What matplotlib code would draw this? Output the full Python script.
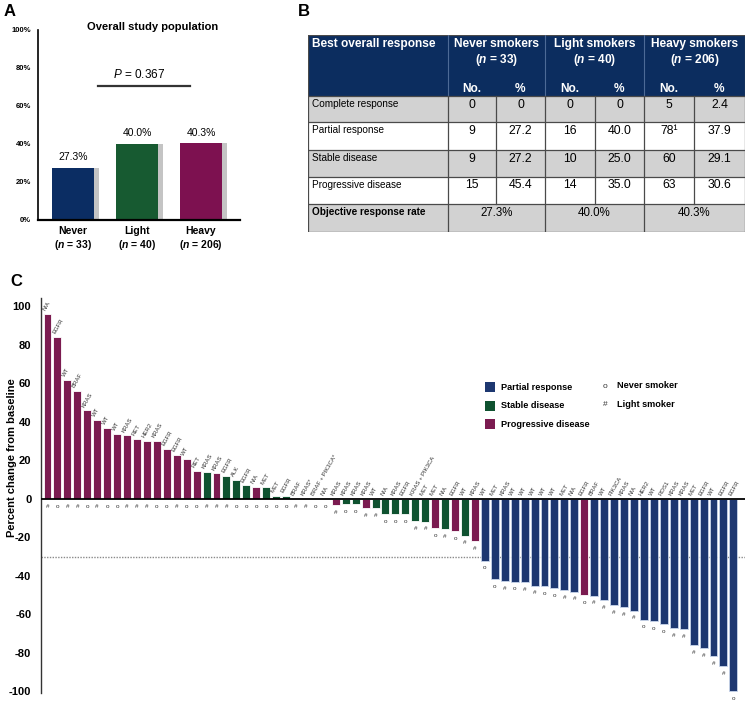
import numpy as np
import matplotlib
matplotlib.use('Agg')
import matplotlib.pyplot as plt
from matplotlib.patches import Rectangle

plt.rcParams['font.family'] = ['Liberation Sans', 'DejaVu Sans']
plt.rcParams['mathtext.fontset'] = 'custom'
plt.rcParams['mathtext.it'] = 'Liberation Sans:italic'
plt.rcParams['mathtext.bfit'] = 'Liberation Sans:italic:bold'
plt.rcParams['mathtext.rm'] = 'Liberation Sans'

W, H = 750, 701

# --- Panel A data ---
groups_a = ['Never', 'Light', 'Heavy']
n_a = [33, 40, 206]
orr_a = [27.3, 40.0, 40.3]
colors_a = ['#0b2d63', '#175a31', '#7d1150']
p_value = 0.367

# --- Panel B data ---
smoker_groups = ['Never smokers', 'Light smokers', 'Heavy smokers']
resp_rows = ['Complete response', 'Partial response', 'Stable disease', 'Progressive disease']
never_no = ['0', '9', '9', '15']
never_pct = ['0', '27.2', '27.2', '45.4']
light_no = ['0', '16', '10', '14']
light_pct = ['0', '40.0', '25.0', '35.0']
heavy_no = ['5', '78\u00b9', '60', '63']
heavy_pct = ['2.4', '37.9', '29.1', '30.6']
orr_row = ['27.3%', '40.0%', '40.3%']

# --- Panel C data ---
genes = ['N/A', 'EGFR', 'WT', 'BRAF', 'KRAS', 'WT', 'WT', 'WT', 'KRAS', 'RET',
         'HER2', 'KRAS', 'EGFR', 'EGFR', 'WT', 'RET', 'KRAS', 'KRAS', 'EGFR', 'ALK',
         'EGFR', 'N/A', 'MET', 'MET', 'EGFR', 'BRAF', 'KRAS*', 'BRAF + PIK3CA*', 'N/A',
         'KRAS', 'KRAS', 'KRAS', 'KRAS', 'WT', 'N/A', 'KRAS', 'EGFR', 'KRAS + PIK3CA',
         'MET', 'MET', 'N/A', 'EGFR', 'WT', 'KRAS',
         'WT', 'MET', 'KRAS', 'WT', 'WT', 'WT', 'WT', 'WT', 'MET', 'N/A', 'EGFR',
         'BRAF', 'WT', 'PIK3CA', 'KRAS', 'N/A', 'HER2', 'WT', 'ROS1', 'KRAS', 'KRAS',
         'MET', 'EGFR', 'WT', 'EGFR', 'EGFR']
pct_change = [96, 84, 62, 56, 46, 41, 37, 34, 33, 31, 30, 30, 26, 23, 21,
              14.7, 13.9, 13.3, 12, 9.9, 7, 6.4, 6, 1.7, 1.5, 0, 0, 0, 0,
              -3, -2.8, -2.8, -4.9, -4.9, -7.8, -7.8, -7.8, -11.3, -11.8,
              -15.3, -15.5, -16.7, -19, -22,
              -32, -41.7, -42.7, -42.9, -43.1, -45, -45.3, -46.2, -47.2, -48.1,
              -49.8, -50.2, -52.6, -55, -56, -58, -62.7, -63.5, -64.8, -67.2,
              -67.5, -75.9, -77.4, -81.6, -87, -100]
response = (['PD'] * 16 + ['SD', 'PD', 'SD', 'SD', 'SD', 'PD', 'SD', 'SD', 'SD',
             'SD', 'SD', 'SD', 'SD']
            + ['PD', 'SD', 'SD', 'PD', 'SD', 'SD', 'SD', 'SD', 'SD', 'SD', 'PD',
               'SD', 'PD', 'SD', 'PD']
            + ['PR'] * 10 + ['PD'] + ['PR'] * 15)
smoker = ['#', 'o', '#', '#', 'o', '#', 'o', 'o', '#', '#', '#', 'o', 'o', '#', 'o',
          'o', '#', '#', '#', 'o', 'o', 'o', 'o', 'o', 'o', '#', '#', 'o', 'o',
          '#', 'o', 'o', '#', '#', 'o', 'o', 'o', '#', '#', 'o', '#', 'o', '#', '#',
          'o', 'o', '#', 'o', '#', '#', 'o', 'o', '#', '#', 'o', '#', '#', '#', '#',
          '#', 'o', 'o', 'o', '#', '#', '#', '#', '#', '#', 'o']
resp_colors = {'PR': '#1d3770', 'SD': '#0f5230', 'PD': '#7b1b50'}
resp_names = {'PR': 'Partial response', 'SD': 'Stable disease', 'PD': 'Progressive disease'}
smoker_names = {'o': 'Never smoker', '#': 'Light smoker'}

fig = plt.figure(figsize=(W / 100, H / 100), dpi=100)


def px_axes(l, t, r, b):
    return fig.add_axes([l / W, 1 - b / H, (r - l) / W, (b - t) / H])


# letters
fig.text(4 / W, 1 - 11 / H, 'A', fontsize=12, fontweight='bold', va='center')
fig.text(298 / W, 1 - 11 / H, 'B', fontsize=12, fontweight='bold', va='center')
fig.text(10 / W, 1 - 282 / H, 'C', fontsize=12, fontweight='bold', va='center')

# ---------------- Panel A ----------------
axA = px_axes(38, 30, 240, 220)
xa = np.arange(len(groups_a))
axA.bar(xa + 0.07, orr_a, width=0.67, color='#c4c4c4', zorder=1)
axA.bar(xa, orr_a, width=0.67, color=colors_a, zorder=2)
axA.set_xlim(-0.547, 2.61)
axA.set_ylim(0, 100)
axA.set_yticks(range(0, 101, 20))
axA.set_yticklabels([f'{v}%' for v in range(0, 101, 20)], fontsize=5.5, fontweight='bold')
axA.tick_params(axis='y', length=0, pad=5)
axA.set_xticks([])
for s in ['top', 'right']:
    axA.spines[s].set_visible(False)
axA.spines['left'].set_linewidth(1.2)
axA.spines['bottom'].set_linewidth(1.6)
for i, v in enumerate(orr_a):
    axA.text(i, v + 3, f'{v:.1f}%', ha='center', va='bottom', fontsize=7.5)
    axA.text(i, -5.8, groups_a[i], ha='center', va='center', fontsize=7.5,
             fontweight='bold', clip_on=False)
    axA.text(i, -13.2, r'($\mathbfit{n}$ = ' + f'{n_a[i]})', ha='center', va='center',
             fontsize=7.5, fontweight='bold', clip_on=False)
axA.plot([0.39, 1.83], [70.5, 70.5], color='#333333', lw=1.6)
axA.text(1.03, 76.5, r'$P$ = ' + f'{p_value}', ha='center', va='center', fontsize=8.5)
axA.text(1.25, 101.6, 'Overall study population', ha='center', va='center',
         fontsize=8, fontweight='bold', clip_on=False)

# ---------------- Panel B ----------------
axB = px_axes(308, 35, 745, 232)
axB.set_xlim(308, 745)
axB.set_ylim(232, 35)
axB.axis('off')
cols = [308, 448, 496, 545, 595, 644, 694, 745]
rows_y = [35, 96, 122, 150, 177, 204, 232]
navy = '#0c2d5f'
axB.add_patch(Rectangle((cols[0], rows_y[0]), cols[-1] - cols[0], rows_y[1] - rows_y[0],
                        facecolor=navy, edgecolor='none'))
fills = ['#d2d2d2', 'white', '#d2d2d2', 'white', '#d2d2d2']
for r in range(5):
    axB.add_patch(Rectangle((cols[0], rows_y[r + 1]), cols[-1] - cols[0],
                            rows_y[r + 2] - rows_y[r + 1], facecolor=fills[r],
                            edgecolor='none'))
grid_c = '#4a4a4a'
for y in rows_y[1:]:
    axB.plot([cols[0], cols[-1]], [y, y], color=grid_c, lw=0.9)
axB.plot([cols[0], cols[-1]], [rows_y[0], rows_y[0]], color=grid_c, lw=0.9)
for x in [cols[0], cols[-1]]:
    axB.plot([x, x], [rows_y[0], rows_y[-1]], color=grid_c, lw=0.9)
for x in [cols[1], cols[3], cols[5]]:
    axB.plot([x, x], [rows_y[0], rows_y[1]], color='#4d6a96', lw=0.8)
    axB.plot([x, x], [rows_y[1], rows_y[-1]], color=grid_c, lw=0.9)
for x in [cols[2], cols[4], cols[6]]:
    axB.plot([x, x], [rows_y[1], rows_y[-2]], color=grid_c, lw=0.9)

hdr_fs = 8.6
axB.text(312, 44, 'Best overall response', color='white', fontsize=hdr_fs,
         fontweight='bold', va='center', ha='left')
group_n = [33, 40, 206]
for g in range(3):
    cx = (cols[1 + 2 * g] + cols[3 + 2 * g]) / 2
    axB.text(cx, 44, smoker_groups[g], color='white', fontsize=hdr_fs, fontweight='bold',
             ha='center', va='center')
    axB.text(cx, 60, r'($\mathbfit{n}$ = ' + f'{group_n[g]})', color='white',
             fontsize=hdr_fs, fontweight='bold', ha='center', va='center')
    axB.text((cols[1 + 2 * g] + cols[2 + 2 * g]) / 2, 89, 'No.', color='white',
             fontsize=hdr_fs, fontweight='bold', ha='center', va='center')
    axB.text((cols[2 + 2 * g] + cols[3 + 2 * g]) / 2, 89, '%', color='white',
             fontsize=hdr_fs, fontweight='bold', ha='center', va='center')

table_cols = [never_no, never_pct, light_no, light_pct, heavy_no, heavy_pct]
for r, label in enumerate(resp_rows):
    ty = rows_y[r + 1] + 8
    axB.text(312, ty, label, fontsize=7.2, ha='left', va='center')
    for c, vals in enumerate(table_cols):
        axB.text((cols[c + 1] + cols[c + 2]) / 2, ty + 0.5, vals[r], fontsize=8.8,
                 ha='center', va='center')
ty = rows_y[5] + 8
axB.text(312, ty, 'Objective response rate', fontsize=7.2, fontweight='bold',
         ha='left', va='center')
for g in range(3):
    axB.text((cols[1 + 2 * g] + cols[3 + 2 * g]) / 2, ty + 0.5, orr_row[g], fontsize=8.3,
             ha='center', va='center')

# ---------------- Panel C ----------------
axC = px_axes(41, 298, 745, 693)
xc = np.arange(len(pct_change))
bar_colors = [resp_colors[r] for r in response]
edge_colors = ['#c8d5ea' if r == 'PR' else 'white' for r in response]
axC.bar(xc, pct_change, width=0.8, color=bar_colors, edgecolor=edge_colors,
        linewidth=0.6, zorder=2)
axC.set_xlim(-0.654, 70.17)
axC.set_ylim(-100.8, 104.4)
axC.axhline(0, color='black', lw=1.3, zorder=3)
axC.axhline(-30, color='#8a8a8a', lw=1.0, ls=(0, (1, 1)), zorder=1)
for s in ['top', 'right', 'bottom']:
    axC.spines[s].set_visible(False)
axC.spines['left'].set_linewidth(1.0)
axC.spines['left'].set_color('#333333')
axC.set_xticks([])
axC.set_yticks(range(-100, 101, 20))
axC.set_yticklabels([str(v) for v in range(-100, 101, 20)], fontsize=8, fontweight='bold')
axC.tick_params(axis='y', length=0, pad=7)
axC.set_ylabel('Percent change from baseline', fontsize=8, fontweight='bold')
axC.yaxis.set_label_coords(-0.034, 0.597)

for i, v in enumerate(pct_change):
    axC.text(i - 0.15, max(v, 0) + 1.2, genes[i], rotation=60, rotation_mode='anchor',
             ha='left', va='bottom', fontsize=4.3, color='#333333', zorder=4)
    axC.text(i, min(v, 0) - 3.8, smoker[i], ha='center', va='center', fontsize=4.6,
             color='#333333', zorder=4)

# legend
for k, key in enumerate(['PR', 'SD', 'PD']):
    yc = 387 + k * 18.5
    fig.add_artist(Rectangle((485 / W, 1 - (yc + 5) / H), 10 / W, 10 / H,
                             transform=fig.transFigure, facecolor=resp_colors[key],
                             edgecolor='none'))
    fig.text(501 / W, 1 - yc / H, resp_names[key], fontsize=6.6, fontweight='bold',
             va='center', ha='left')
for k, key in enumerate(['o', '#']):
    yc = 386 + k * 18.5
    fig.text(605 / W, 1 - yc / H, key, fontsize=6, ha='center', va='center',
             color='#333333')
    fig.text(617 / W, 1 - yc / H, smoker_names[key], fontsize=6.6, fontweight='bold',
             va='center', ha='left')

fig.savefig('out.png', dpi=100)
